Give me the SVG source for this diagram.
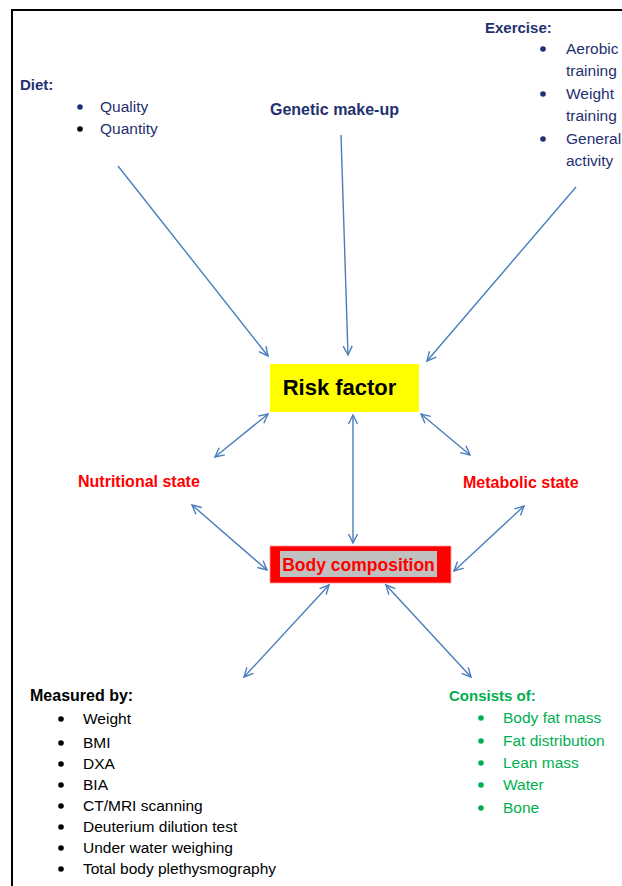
<svg xmlns="http://www.w3.org/2000/svg" width="622" height="886" viewBox="0 0 622 886">
<defs>
<marker id="ah" viewBox="-10 -6 12 12" refX="0" refY="0" markerWidth="12" markerHeight="12" markerUnits="userSpaceOnUse" orient="auto-start-reverse">
<path d="M-9,-4.5 L0,0 L-9,4.5" fill="none" stroke="#4a7ebb" stroke-width="1.4"/>
</marker>
</defs>
<style>
text{font-family:"Liberation Sans",Arial,sans-serif}
.h{font-weight:bold;font-size:15px}
.h2{font-weight:bold;font-size:16px}
.t{font-size:15.5px}
.navy{fill:#1f3170}
.blk{fill:#000}
.red{fill:#ff0000}
.grn{fill:#00b050}
.c{stroke:#4a7ebb;stroke-width:1.4;fill:none}
.one{marker-end:url(#ah)}
.two{marker-start:url(#ah);marker-end:url(#ah)}
</style>
<rect width="622" height="886" fill="#fff"/>
<g id="border" stroke="#000" stroke-width="2" fill="none">
<path d="M12,886 L12,10 L622,10"/>
</g>
<g id="connectors">
<line class="c one" x1="118" y1="166" x2="268" y2="356"/>
<line class="c one" x1="341" y1="135" x2="348" y2="355"/>
<line class="c one" x1="576" y1="187" x2="427" y2="361"/>
<line class="c two" x1="215" y1="457" x2="268" y2="414"/>
<line class="c two" x1="353" y1="415" x2="353" y2="543"/>
<line class="c two" x1="421" y1="414" x2="470" y2="455"/>
<line class="c two" x1="192" y1="505" x2="267" y2="570"/>
<line class="c two" x1="524" y1="506" x2="454" y2="571"/>
<line class="c two" x1="329" y1="585" x2="244" y2="677"/>
<line class="c two" x1="386" y1="585" x2="471" y2="677"/>
</g>
<g id="diet">
<text class="h navy" x="20" y="90">Diet:</text>
<circle cx="80" cy="107" r="2.8" fill="#1f3170"/>
<text class="t navy" x="100" y="112">Quality</text>
<circle cx="80" cy="129" r="2.8" fill="#000"/>
<text class="t navy" x="100" y="134">Quantity</text>
</g>
<g id="genetic">
<text class="h2 navy" x="270" y="115">Genetic make-up</text>
</g>
<g id="exercise">
<text class="h navy" x="485" y="33">Exercise:</text>
<circle cx="543" cy="49" r="2.8" fill="#1f3170"/>
<text class="t navy" x="566" y="54">Aerobic</text>
<text class="t navy" x="566" y="76">training</text>
<circle cx="543" cy="94" r="2.8" fill="#1f3170"/>
<text class="t navy" x="566" y="99">Weight</text>
<text class="t navy" x="566" y="121">training</text>
<circle cx="543" cy="139" r="2.8" fill="#1f3170"/>
<text class="t navy" x="566" y="144">General</text>
<text class="t navy" x="566" y="166">activity</text>
</g>
<g id="risk">
<rect x="270" y="364" width="149" height="48" fill="#ffff00"/>
<text x="339.5" y="395" text-anchor="middle" font-weight="bold" font-size="22" fill="#000">Risk factor</text>
</g>
<g id="nutritional">
<text class="h2 red" x="78" y="487">Nutritional state</text>
</g>
<g id="metabolic">
<text class="h2 red" x="463" y="488">Metabolic state</text>
</g>
<g id="body">
<rect x="270" y="546" width="181" height="37" fill="#ff0000" stroke="#ff9a9a" stroke-width="0.8"/>
<rect x="280" y="551" width="157" height="26" fill="#c0c0c0"/>
<text x="358.5" y="571" text-anchor="middle" font-weight="bold" font-size="17.5" fill="#ff0000">Body composition</text>
</g>
<g id="measured">
<text class="h2 blk" x="30" y="701">Measured by:</text>
<g fill="#000">
<circle cx="61" cy="719" r="2.8"/>
<circle cx="61" cy="743" r="2.8"/>
<circle cx="61" cy="764" r="2.8"/>
<circle cx="61" cy="785" r="2.8"/>
<circle cx="61" cy="806" r="2.8"/>
<circle cx="61" cy="827" r="2.8"/>
<circle cx="61" cy="848" r="2.8"/>
<circle cx="61" cy="869" r="2.8"/>
</g>
<text class="t blk" x="83" y="724">Weight</text>
<text class="t blk" x="83" y="748">BMI</text>
<text class="t blk" x="83" y="769">DXA</text>
<text class="t blk" x="83" y="790">BIA</text>
<text class="t blk" x="83" y="811">CT/MRI scanning</text>
<text class="t blk" x="83" y="832">Deuterium dilution test</text>
<text class="t blk" x="83" y="853">Under water weighing</text>
<text class="t blk" x="83" y="874">Total body plethysmography</text>
</g>
<g id="consists">
<text class="h grn" x="449" y="701">Consists of:</text>
<g fill="#00b050">
<circle cx="481" cy="718" r="2.8"/>
<circle cx="481" cy="741" r="2.8"/>
<circle cx="481" cy="763" r="2.8"/>
<circle cx="481" cy="785" r="2.8"/>
<circle cx="481" cy="808" r="2.8"/>
</g>
<text class="t grn" x="503" y="723">Body fat mass</text>
<text class="t grn" x="503" y="746">Fat distribution</text>
<text class="t grn" x="503" y="768">Lean mass</text>
<text class="t grn" x="503" y="790">Water</text>
<text class="t grn" x="503" y="813">Bone</text>
</g>
</svg>
